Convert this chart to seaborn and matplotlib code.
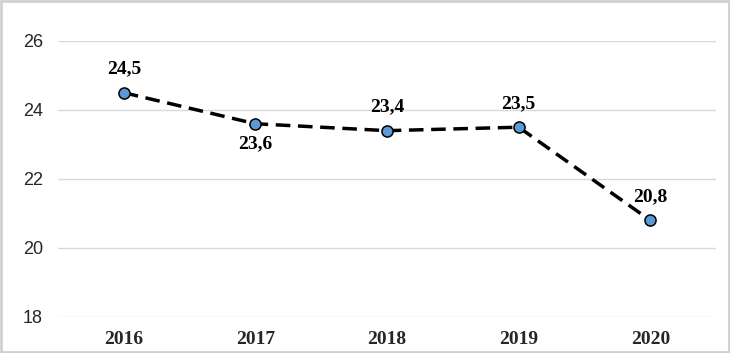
import numpy as np
import pandas as pd
import matplotlib
matplotlib.use("Agg")
import matplotlib.pyplot as plt
import seaborn as sns
from matplotlib.patches import Rectangle

# data
years = ["2016", "2017", "2018", "2019", "2020"]
values = [24.5, 23.6, 23.4, 23.5, 20.8]
labels = ["24,5", "23,6", "23,4", "23,5", "20,8"]
label_pos = ["above", "below", "above", "above", "above"]

df = pd.DataFrame({"year": years, "value": values})

sns.set_theme(style="white")

fig = plt.figure(figsize=(7.3, 3.53), dpi=100)
ax = fig.add_axes([0.0795, 0.102, 0.9015, 0.782])

sns.lineplot(data=df, x="year", y="value", ax=ax, color="black",
             linewidth=2.5, linestyle=(0, (4.2, 2.2)), sort=False,
             marker="o", markersize=8, markerfacecolor="#5b9bd5",
             markeredgecolor="black", markeredgewidth=1.1)

for i, (v, lab, pos) in enumerate(zip(values, labels, label_pos)):
    off = 11 if pos == "above" else -8
    ax.annotate(lab, (i, v), xytext=(0, off), textcoords="offset points",
                ha="center", va="bottom" if pos == "above" else "top",
                fontsize=14, fontweight="bold", family="Liberation Serif",
                color="black")

ax.set_xlim(-0.5, 4.5)
ax.set_ylim(18, 26)
ax.set_yticks([18, 20, 22, 24, 26])
ax.yaxis.grid(True, color="#d9d9d9", linewidth=1)
ax.xaxis.grid(False)
for s in ax.spines.values():
    s.set_visible(False)
ax.set_xlabel("")
ax.set_ylabel("")
ax.tick_params(axis="y", length=0, pad=11, labelsize=13, labelcolor="#262626")
ax.tick_params(axis="x", length=0, pad=10)
for t in ax.get_yticklabels():
    t.set_family("Liberation Sans")
for t in ax.get_xticklabels():
    t.set_family("Liberation Serif")
    t.set_fontweight("bold")
    t.set_fontsize(14)

fig.patches.append(Rectangle((0.001, 0.002), 0.997, 0.995, transform=fig.transFigure,
                             fill=False, edgecolor="#d0d0d0", linewidth=2))

fig.savefig("out.png", dpi=100)
